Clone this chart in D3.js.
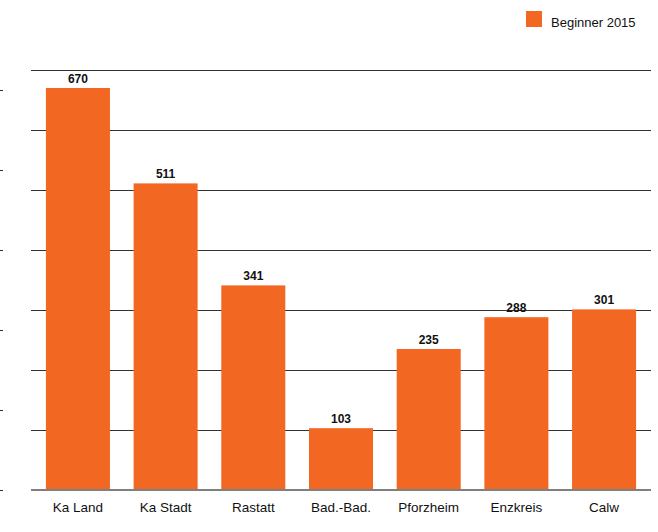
<!DOCTYPE html>
<html>
<head>
<meta charset="utf-8">
<script src="https://cdn.jsdelivr.net/npm/d3@7"></script>
<style>
  html, body { margin: 0; padding: 0; background: #fff; }
  svg { display: block; }
</style>
</head>
<body>
<script>
const categories = ["Ka Land", "Ka Stadt", "Rastatt", "Bad.-Bad.", "Pforzheim", "Enzkreis", "Calw"];
const values = [670, 511, 341, 103, 235, 288, 301];
const seriesName = "Beginner 2015";
const gridTicks = [100, 200, 300, 400, 500, 600, 700];
const leftTicks = [0, 100, 200, 300, 400, 500];

const W = 658, H = 532;
const color = "#F26722";
const font = "'Liberation Sans', Arial, sans-serif";

const svg = d3.select("body").append("svg").attr("width", W).attr("height", H);

const x = d3.scaleBand().domain(categories).range([31, 651]).paddingInner(0.27).paddingOuter(0.17);
const y = d3.scaleLinear().domain([0, 700]).range([490, 70]);
const yLeft = d3.scaleLinear().domain([0, 525]).range([490, 70]);

// left stray ticks
svg.append("g").selectAll("line").data(leftTicks).join("line")
  .attr("x1", 0).attr("x2", 3)
  .attr("y1", d => Math.round(yLeft(d)) + 0.5).attr("y2", d => Math.round(yLeft(d)) + 0.5)
  .attr("stroke", "#333").attr("stroke-width", 1);

// gridlines
svg.append("g").selectAll("line").data(gridTicks).join("line")
  .attr("x1", 31).attr("x2", 651)
  .attr("y1", d => Math.round(y(d)) + 0.5).attr("y2", d => Math.round(y(d)) + 0.5)
  .attr("stroke", "#333").attr("stroke-width", 1);

// bars
svg.append("g").selectAll("rect").data(values).join("rect")
  .attr("x", (d, i) => x(categories[i]))
  .attr("width", x.bandwidth())
  .attr("y", d => y(d))
  .attr("height", d => y(0) - y(d))
  .attr("fill", color);

// baseline
svg.append("line").attr("x1", 31).attr("x2", 651)
  .attr("y1", y(0)).attr("y2", y(0))
  .attr("stroke", "#808080").attr("stroke-width", 2);

// value labels
svg.append("g").selectAll("text").data(values).join("text")
  .attr("x", (d, i) => x(categories[i]) + x.bandwidth() / 2)
  .attr("y", d => y(d) - 5)
  .attr("text-anchor", "middle")
  .attr("font-family", font).attr("font-weight", "bold").attr("font-size", 12)
  .attr("fill", "#111")
  .text(d => d);

// category labels
svg.append("g").selectAll("text").data(categories).join("text")
  .attr("x", d => x(d) + x.bandwidth() / 2)
  .attr("y", 512)
  .attr("text-anchor", "middle")
  .attr("font-family", font).attr("font-size", 13.5)
  .attr("fill", "#111")
  .text(d => d);

// legend
const lg = svg.append("g");
lg.append("rect").attr("x", 526).attr("y", 11).attr("width", 16).attr("height", 16).attr("fill", color);
lg.append("text").attr("x", 551).attr("y", 27)
  .attr("font-family", font).attr("font-size", 13).attr("fill", "#111")
  .text(seriesName);
</script>
</body>
</html>
